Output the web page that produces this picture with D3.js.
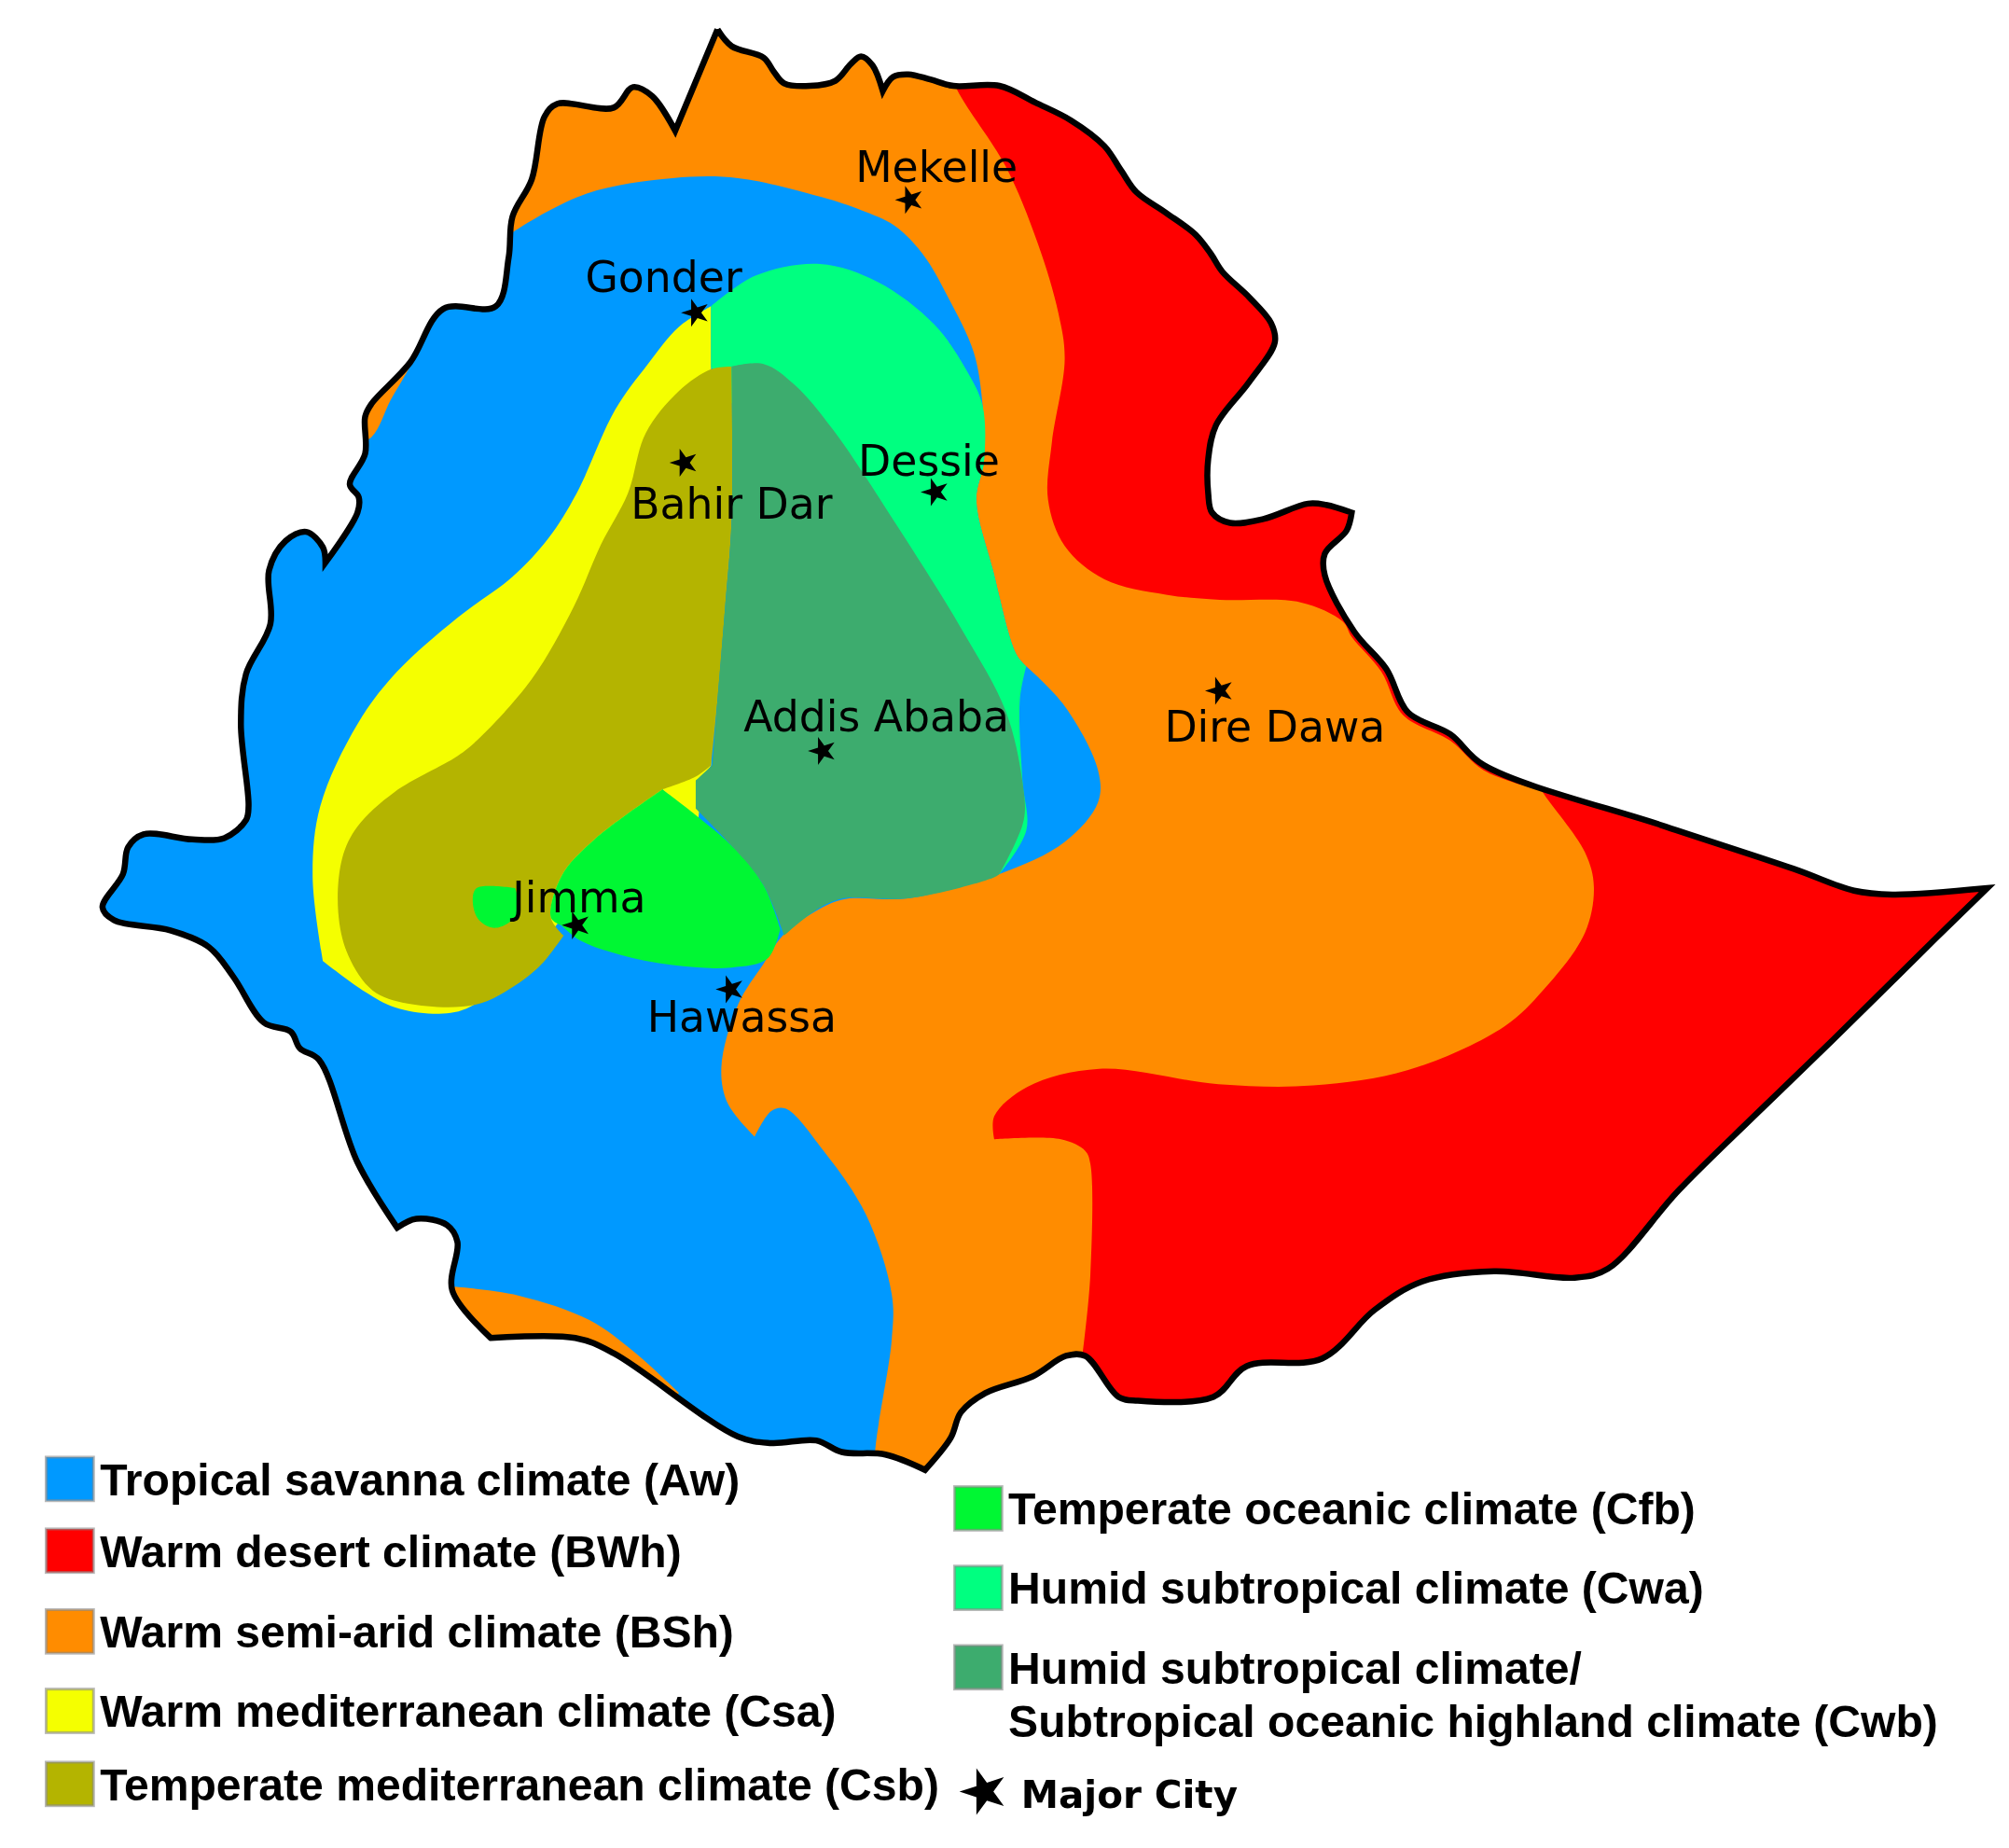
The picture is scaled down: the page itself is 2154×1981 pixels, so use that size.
<!DOCTYPE html>
<html>
<head>
<meta charset="utf-8">
<script src="https://cdn.jsdelivr.net/npm/d3@7"></script>
<style>
	body { margin: 0; background: #fff; }
	svg { display: block; filter: blur(0.7px); }
</style>
</head>
<body>
<div id="container"></div>
<script>
// all map vertices are read off the picture, in a 1568 x 1442 grid
// a third value of 1 marks a sharp corner

var border = [[560,23,1],[571,36],[596,45],[604,56],[612,65],[632,67],[652,63],[664,50],[672,44],[681,51],[689,71,1],[697,60],[709,58],[726,62],[744,67],[780,67],[808,80],[836,94],[862,114],[875,133],[887,150],[910,166],[933,183],[945,198],[954,212],[975,232],[992,252],[995,267],[975,298],[949,332],[943,358],[943,385],[946,400],[960,408],[986,405],[1021,393],[1035,394],[1055,400,1],[1051,414],[1034,432],[1034,449],[1057,493],[1082,522],[1099,556],[1132,573],[1158,597],[1300,645],[1400,678],[1447,695],[1477,698],[1551,693,1],[1510,733],[1430,812],[1370,870],[1310,929],[1255,990],[1229,997],[1166,992],[1110,1000],[1073,1022],[1032,1060],[973,1066],[947,1090],[888,1093],[873,1090],[847,1058],[832,1058],[806,1074],[769,1087],[750,1102],[742,1122],[722,1147,1],[691,1135],[657,1133],[637,1124],[602,1126],[576,1121],[479,1056],[449,1044],[383,1044,1],[353,1007],[357,969],[349,956],[325,951],[310,958,1],[279,907],[249,827],[234,818],[227,805],[206,798],[182,762],[163,739],[133,726],[89,718],[80,708],[96,682],[100,661],[112,651],[150,655],[175,654],[192,640],[194,629],[188,565],[192,526],[211,487],[210,445],[223,422],[239,415],[252,427],[254,439,1],[279,400],[280,388],[273,378],[285,354],[285,325],[290,315],[320,283],[346,241],[387,239],[397,201],[400,169],[415,140],[425,91],[435,81],[479,84],[494,68],[509,75],[527,102,1]];

// shared edge between the semi-arid zone and the humid subtropical zone
var eastEdge = [[767,317],[768,360],[762,390],[775,445],[793,510],[801,520,1]];

var bshNorth = [[370,100],[392,188],[402,180],[458,151],[525,139],[576,139],[642,154],[672,164],[698,176],[720,198],[740,232],[760,275]].concat(eastEdge, [[831,551],[857,601],[857,626],[831,657],[780,682],[709,701],[657,702],[630,715],[611,730],[596,752],[576,784],[563,833],[568,861],[589,887,1],[602,867],[613,865],[642,897],[676,948],[696,1010],[696,1045],[683,1132],[680,1200,1],[1100,1250,1],[1650,1100,1],[1650,100,1],[1000,-30,1],[380,-30,1]]);
var bshWest = [[270,350,1],[290,341],[305,312],[320,286],[332,262,1],[300,250,1],[270,300,1]];
var bshSouth = [[355,1004,1],[405,1011],[460,1030],[495,1055],[530,1087,1],[500,1110,1],[400,1090,1],[330,1050,1]];

var bwhNorth = [[735,40,1],[747,70],[785,130],[810,190],[826,244],[831,280],[821,345],[818,390],[831,426],[862,452],[910,464],[952,468],[1015,470],[1048,485],[1055,497],[1078,524],[1095,558],[1132,578],[1158,601],[1200,616,1],[1320,590,1],[1120,300,1],[1000,100,1],[800,30,1]];
var bwhEast = [[1200,610,1],[1204,618],[1237,665],[1244,692],[1237,728],[1205,772],[1174,801],[1099,835],[1025,847],[951,846],[858,834],[802,848],[776,871],[776,889,1],[828,889],[847,898],[851,908],[851,995],[845,1056,1],[880,1160,1],[1300,1050,1],[1620,700,1],[1400,620,1]];

var csa = [[555,239,1],[530,255],[505,285],[480,320],[450,385],[428,420],[400,450],[357,482],[310,524],[279,565],[250,629],[244,684],[252,750,1],[285,774],[308,786],[338,791],[364,787],[400,760],[460,690],[517,616,1],[545,640,1],[548,610,1],[555,597,1]];
var csb = [[571,286,1],[555,288],[530,305],[504,338],[490,385],[469,425],[448,473],[415,530],[372,578],[357,590],[308,618],[279,645],[267,670],[264,712],[272,746],[291,773],[318,783],[371,784],[405,767],[423,752],[440,730,1],[430,716],[438,684],[464,655],[517,616,1],[543,606],[555,597,1],[560,546],[566,473],[571,406]];
var cwa = [[555,239,1],[590,215],[640,206],[685,220],[729,253],[755,290]].concat(eastEdge, [[796,546],[798,609],[801,648],[780,682,1],[700,640],[640,450],[555,286,1]]);
var cwb = [[571,286,1],[596,284],[620,300],[650,335],[700,410],[750,490],[785,555],[798,610],[799,640],[780,682,1],[775,685],[709,701],[658,701],[637,710],[612,730,1],[596,691],[571,660],[543,631,1],[543,609,1],[556,597,1],[560,546],[566,473],[571,406]];
var cfb = [[517,616,1],[543,636],[571,660],[596,691],[609,725,1],[599,748],[571,755],[525,753],[484,745],[453,734],[438,722,1],[430,716],[438,684],[464,655]];
var cfbJimma = [[372,693],[402,693,1],[405,712],[387,724],[374,718],[369,704]];

var zoneCodes = ['BSh', 'BSh', 'BSh', 'BWh', 'BWh', 'Csa', 'Cwa', 'Csb', 'Cwb', 'Cfb', 'Cfb'];
var zoneShapes = [bshNorth, bshWest, bshSouth, bwhNorth, bwhEast, csa, cwa, csb, cwb, cfb, cfbJimma];

var cityNames = ['Mekelle', 'Gonder', 'Bahir Dar', 'Dessie', 'Addis Ababa', 'Dire Dawa', 'Jimma', 'Hawassa'];
var cityPoints = [[710,156],[543,244],[534,361],[730,384],[642,586],[952,539],[450,722],[570,772]];
var cityLabelPoints = [[731,130],[518,216],[571,393],[725,359],[684,559],[995,567],[452,700],[579,793]];

var climateCodes = ['Aw', 'BWh', 'BSh', 'Csa', 'Csb', 'Cfb', 'Cwa', 'Cwb'];
var climateColors = ['#0099ff', '#ff0000', '#ff8c00', '#f5ff00', '#b4b400', '#00f733', '#00ff80', '#3dac6e'];
var legendLabels = [
	['Tropical savanna climate (Aw)'],
	['Warm desert climate (BWh)'],
	['Warm semi-arid climate (BSh)'],
	['Warm mediterranean climate (Csa)'],
	['Temperate mediterranean climate (Csb)'],
	['Temperate oceanic climate (Cfb)'],
	['Humid subtropical climate (Cwa)'],
	['Humid subtropical climate/', 'Subtropical oceanic highland climate (Cwb)']
];
var legendRows = [[36,1137],[36,1193],[36,1256],[36,1318],[36,1375],[745,1160],[745,1222],[745,1284]];

var width = 2154, height = 1981;
var x = d3.scaleLinear().domain([0, 1568]).range([0, width]);
var y = d3.scaleLinear().domain([0, 1442]).range([0, height]);
var color = d3.scaleOrdinal(climateCodes, climateColors);

var svg = d3.select('#container').append('svg')
	.attr('width', width)
	.attr('height', height);

var spline = d3.line()
	.x(function(d) { return x(d[0]); })
	.y(function(d) { return y(d[1]); })
	.curve(d3.curveCatmullRomClosed.alpha(0.5));

// doubling a vertex makes the spline turn sharply there
function outline(points) {
	return spline(points.flatMap(function(p) { return p[2] ? [p, p] : [p]; }));
}

svg.append('clipPath').attr('id', 'country')
	.append('path').attr('d', outline(border));

// zones are painted on top of each other, savanna is the base
var map = svg.append('g').attr('clip-path', 'url(#country)');
map.append('path').attr('d', outline(border)).attr('fill', color('Aw'));
map.selectAll('path.zone')
	.data(zoneShapes).enter()
	.append('path')
	.attr('class', 'zone')
	.attr('d', outline)
	.attr('fill', function(d, i) { return color(zoneCodes[i]); });

svg.append('path')
	.attr('d', outline(border))
	.attr('fill', 'none')
	.attr('stroke', '#000')
	.attr('stroke-width', 6.5)
	.attr('stroke-linejoin', 'miter');

// cities
var star = d3.symbol().type(d3.symbolStar);
svg.selectAll('path.city')
	.data(cityPoints).enter()
	.append('path')
	.attr('class', 'city')
	.attr('d', star.size(280)())
	.attr('transform', function(d) { return 'translate(' + x(d[0]) + ',' + y(d[1]) + ') rotate(-18)'; });

svg.selectAll('text.city')
	.data(cityNames).enter()
	.append('text')
	.attr('class', 'city')
	.attr('x', function(d, i) { return x(cityLabelPoints[i][0]); })
	.attr('y', function(d, i) { return y(cityLabelPoints[i][1]); })
	.attr('dy', '0.36em')
	.attr('text-anchor', 'middle')
	.style('font-family', '"DejaVu Sans"')
	.style('font-size', '45.7px')
	.text(function(d) { return d; });

// legend
var rows = svg.selectAll('g.row')
	.data(climateCodes).enter()
	.append('g')
	.attr('class', 'row')
	.attr('transform', function(d, i) { return 'translate(' + x(legendRows[i][0]) + ',' + y(legendRows[i][1]) + ')'; });

rows.append('rect')
	.attr('width', x(37))
	.attr('height', y(34))
	.attr('fill', function(d) { return color(d); })
	.attr('stroke', '#888')
	.attr('stroke-opacity', 0.6)
	.attr('stroke-width', 3);

rows.each(function(d, i) {
	d3.select(this).selectAll('text')
		.data(legendLabels[i]).enter()
		.append('text')
		.attr('x', x(42))
		.attr('y', function(t, j) { return y(17 + j * 42); })
		.attr('dy', '0.36em')
		.style('font-family', '"Liberation Sans"')
		.style('font-weight', 'bold')
		.style('font-size', '48.1px')
		.text(function(t) { return t; });
});

svg.append('path')
	.attr('d', star.size(780)())
	.attr('transform', 'translate(' + x(768) + ',' + y(1398) + ') rotate(-18)');

svg.append('text')
	.attr('x', x(797))
	.attr('y', y(1400))
	.attr('dy', '0.36em')
	.style('font-family', '"DejaVu Sans"')
	.style('font-weight', 'bold')
	.style('font-size', '40.4px')
	.text('Major City');
</script>
</body>
</html>
